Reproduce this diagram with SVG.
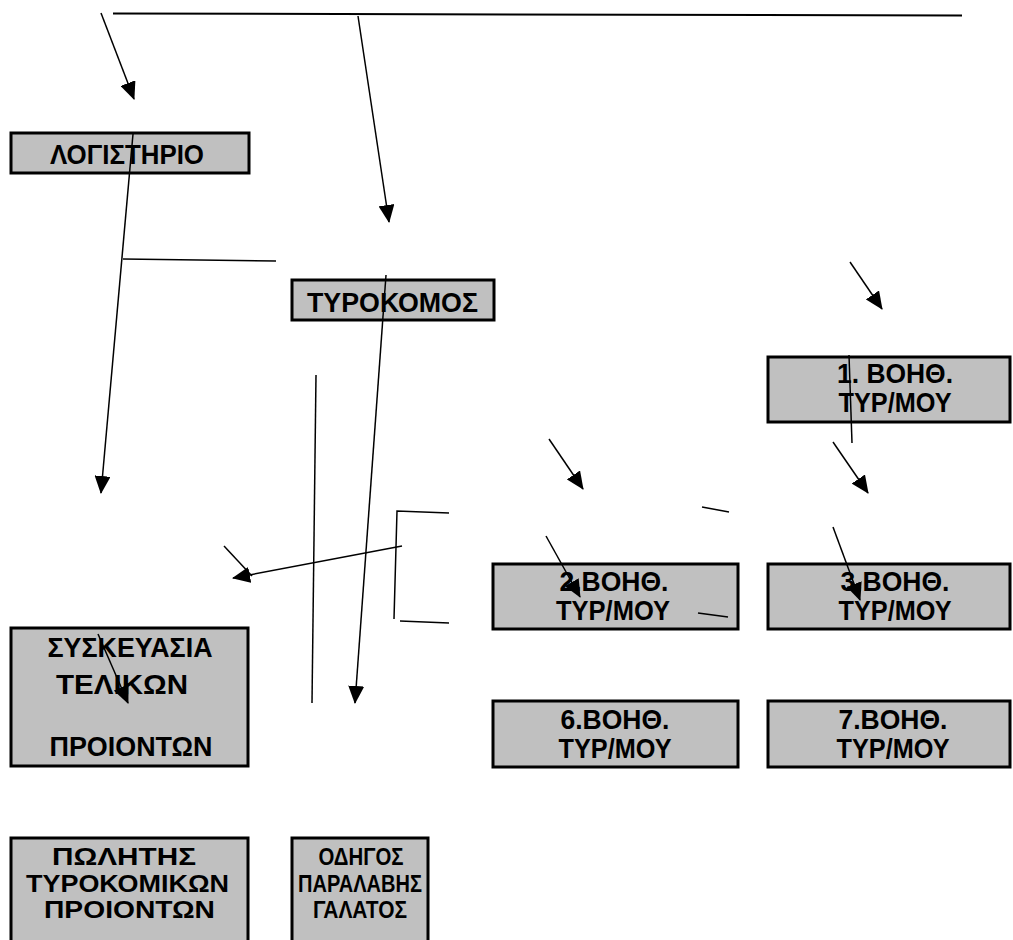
<svg xmlns="http://www.w3.org/2000/svg" width="1013" height="940" viewBox="0 0 1013 940">
<style>
.box{fill:#c0c0c0;stroke:#000;stroke-width:3}
.t{font-family:"Liberation Sans",Arial,sans-serif;font-weight:bold;font-size:27px;fill:#000;text-anchor:middle}
.s{font-size:23px}
.c{stroke:#000;stroke-width:1.5;fill:none}
.a{marker-end:url(#ah)}
</style>
<defs>
<marker id="ah" markerUnits="userSpaceOnUse" markerWidth="18" markerHeight="16" refX="17" refY="8" orient="auto">
<path d="M0,0 L18,8 L0,16 z" fill="#000"/>
</marker>
</defs>
<rect width="1013" height="940" fill="#fff"/>
<g id="logistirio"><rect class="box" x="11" y="133" width="238" height="40"/><text class="t" x="127" y="164" textLength="154" lengthAdjust="spacingAndGlyphs">ΛΟΓΙΣΤΗΡΙΟ</text></g>
<g id="tyrokomos"><rect class="box" x="292" y="280" width="202" height="40"/><text class="t" x="392.5" y="312" textLength="171" lengthAdjust="spacingAndGlyphs">ΤΥΡΟΚΟΜΟΣ</text></g>
<g id="voith1"><rect class="box" x="768" y="357" width="242" height="65"/><text class="t" x="895" y="383" textLength="116" lengthAdjust="spacingAndGlyphs">1. ΒΟΗΘ.</text><text class="t" x="895" y="412" textLength="113" lengthAdjust="spacingAndGlyphs">ΤΥΡ/ΜΟΥ</text></g>
<g id="voith2"><rect class="box" x="493" y="564" width="245" height="65"/><text class="t" x="614" y="591" textLength="109" lengthAdjust="spacingAndGlyphs">2.ΒΟΗΘ.</text><text class="t" x="613" y="620" textLength="114" lengthAdjust="spacingAndGlyphs">ΤΥΡ/ΜΟΥ</text></g>
<g id="voith3"><rect class="box" x="768" y="564" width="242" height="65"/><text class="t" x="895" y="591" textLength="109" lengthAdjust="spacingAndGlyphs">3.ΒΟΗΘ.</text><text class="t" x="895" y="620" textLength="113" lengthAdjust="spacingAndGlyphs">ΤΥΡ/ΜΟΥ</text></g>
<g id="voith6"><rect class="box" x="493" y="701" width="245" height="66"/><text class="t" x="615" y="729" textLength="109" lengthAdjust="spacingAndGlyphs">6.ΒΟΗΘ.</text><text class="t" x="615" y="758" textLength="113" lengthAdjust="spacingAndGlyphs">ΤΥΡ/ΜΟΥ</text></g>
<g id="voith7"><rect class="box" x="768" y="701" width="242" height="66"/><text class="t" x="893" y="729" textLength="109" lengthAdjust="spacingAndGlyphs">7.ΒΟΗΘ.</text><text class="t" x="893" y="758" textLength="113" lengthAdjust="spacingAndGlyphs">ΤΥΡ/ΜΟΥ</text></g>
<g id="syskevasia"><rect class="box" x="11" y="628" width="237" height="138"/><text class="t" x="130" y="657" textLength="165" lengthAdjust="spacingAndGlyphs">ΣΥΣΚΕΥΑΣΙΑ</text><text class="t" x="122" y="694" textLength="132" lengthAdjust="spacingAndGlyphs">ΤΕΛΙΚΩΝ</text><text class="t" x="131" y="756" textLength="163" lengthAdjust="spacingAndGlyphs">ΠΡΟΙΟΝΤΩΝ</text></g>
<g id="polhths"><rect class="box" x="11" y="838" width="237" height="110"/><text class="t s" x="124" y="865" textLength="144" lengthAdjust="spacingAndGlyphs">ΠΩΛΗΤΗΣ</text><text class="t s" x="127.5" y="891.5" textLength="203" lengthAdjust="spacingAndGlyphs">ΤΥΡΟΚΟΜΙΚΩΝ</text><text class="t s" x="129.5" y="918" textLength="171" lengthAdjust="spacingAndGlyphs">ΠΡΟΙΟΝΤΩΝ</text></g>
<g id="odigos"><rect class="box" x="292" y="838" width="136" height="110"/><text class="t s" x="361" y="865" textLength="85" lengthAdjust="spacingAndGlyphs">ΟΔΗΓΟΣ</text><text class="t s" x="360" y="891.5" textLength="124" lengthAdjust="spacingAndGlyphs">ΠΑΡΑΛΑΒΗΣ</text><text class="t s" x="360" y="918" textLength="94" lengthAdjust="spacingAndGlyphs">ΓΑΛΑΤΟΣ</text></g>
<g id="connectors">
<line class="c" x1="113" y1="13.5" x2="962" y2="15.5" style="stroke-width:2"/>
<line class="c a" x1="101" y1="13" x2="134" y2="99"/>
<line class="c a" x1="358" y1="16" x2="389" y2="222"/>
<line class="c a" x1="133" y1="134" x2="101" y2="493"/>
<line class="c" x1="123" y1="259" x2="276" y2="261"/>
<line class="c a" x1="386" y1="275" x2="355" y2="703"/>
<line class="c" x1="316" y1="375" x2="312" y2="703"/>
<line class="c a" x1="402" y1="546" x2="233" y2="578"/>
<line class="c" x1="224" y1="546" x2="252" y2="576"/>
<polyline class="c" points="449,513 397,511 394,619"/>
<line class="c" x1="400" y1="621" x2="449" y2="623"/>
<line class="c" x1="702" y1="507" x2="729" y2="512"/>
<line class="c" x1="698" y1="613" x2="728" y2="617"/>
<line class="c a" x1="549" y1="439" x2="583" y2="489"/>
<line class="c a" x1="546" y1="536" x2="580" y2="597"/>
<line class="c a" x1="850" y1="262" x2="882" y2="309"/>
<line class="c" x1="849" y1="355" x2="852" y2="443"/>
<line class="c a" x1="833" y1="442" x2="868" y2="493"/>
<line class="c a" x1="833" y1="527" x2="860" y2="600"/>
<line class="c a" x1="98" y1="634" x2="128" y2="703"/>
</g>
</svg>
